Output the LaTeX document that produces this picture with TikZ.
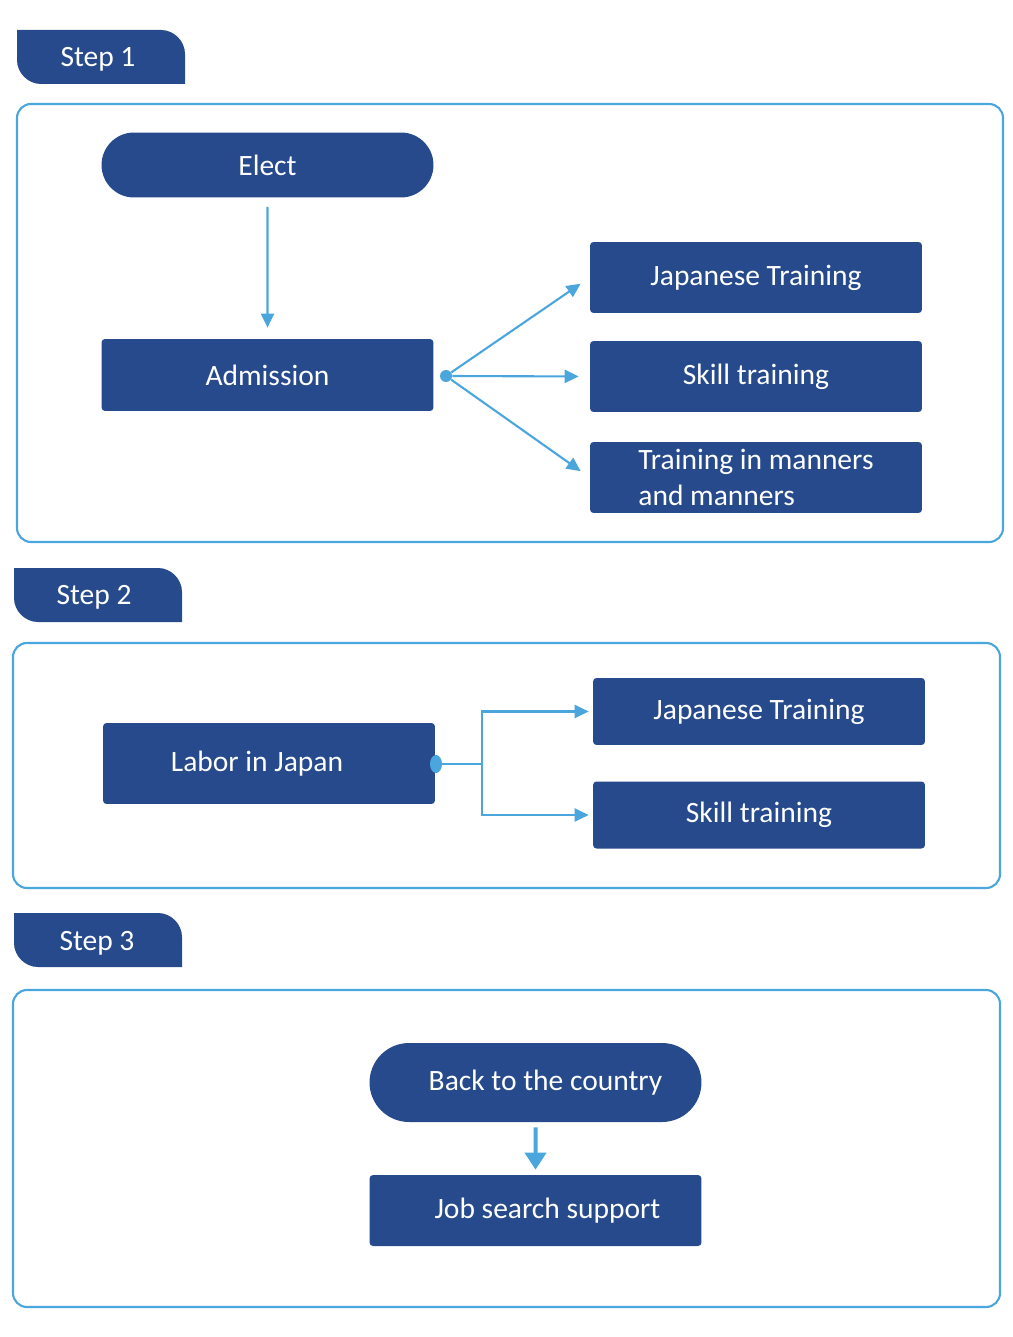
\documentclass[tikz,border=0pt]{standalone}
\usepackage{fontspec}
\setmainfont{Carlito}
\usetikzlibrary{positioning,shapes.misc,shapes.geometric,arrows.meta}
\definecolor{stepblue}{RGB}{38,74,140}
\definecolor{linkblue}{RGB}{75,166,222}

\begin{document}
\begin{tikzpicture}[x=0.02cm,y=-0.02cm]
	% Define node styles
	\tikzstyle{box} = [rectangle, fill=stepblue, text=white, rounded corners=2pt, minimum width=6.64cm, minimum height=1.42cm, inner sep=0pt, font=\fontsize{16.8}{20.4}\selectfont];
	\tikzstyle{pill} = [rounded rectangle, fill=stepblue, text=white, minimum width=6.64cm, inner sep=0pt, font=\fontsize{16.8}{20.4}\selectfont];
	\tikzstyle{panel} = [draw=linkblue, line width=1.2pt, rounded corners=0.28cm];
	\tikzstyle{tabshape} = [fill=stepblue];
	\tikzstyle{tablabel} = [text=white, inner sep=0pt, font=\fontsize{16.8}{20.4}\selectfont];
	\tikzstyle{flow} = [draw=linkblue, line width=1.2pt, -{Triangle[length=0.28cm, width=0.26cm]}];
	\tikzstyle{hub} = [circle, fill=linkblue, inner sep=0pt, minimum size=0.24cm];
	
	\useasboundingbox (0,0) rectangle (1012,1337);
	
	% Step tabs
	\fill[tabshape] (17,30) -- (161,30) .. controls (174,30) and (185,41) .. (185,54) -- (185,84) -- (41,84) .. controls (28,84) and (17,73) .. (17,60) -- cycle;
	\node[tablabel] (stepone) at (98,59) {Step 1};
	\fill[tabshape] (14,568) -- (158,568) .. controls (171,568) and (182,579) .. (182,592) -- (182,622) -- (38,622) .. controls (25,622) and (14,611) .. (14,598) -- cycle;
	\node[tablabel] (steptwo) at (94,597) {Step 2};
	\fill[tabshape] (14,913) -- (158,913) .. controls (171,913) and (182,924) .. (182,937) -- (182,967) -- (38,967) .. controls (25,967) and (14,956) .. (14,943) -- cycle;
	\node[tablabel] (stepthree) at (97,943) {Step 3};
	
	% Panels
	\draw[panel] (17,104) rectangle (1003,542);
	\draw[panel] (13,643) rectangle (1000,888);
	\draw[panel] (13,990) rectangle (1000,1307);
	
	% Step 1
	\node[pill, minimum height=1.3cm] (elect) at (267.5,165) {Elect};
	\node[box, minimum height=1.44cm] (admission) at (267.5,375) {Admission};
	\node[box] (jtone) at (756,277.5) {Japanese Training};
	\node[box] (skillone) at (756,376.5) {Skill training};
	\node[box, align=left] (manners) at (756,477.5) {Training in manners\\and manners\hspace*{0.1cm}};
	\node[hub] (hubone) at (446,376) {};
	
	\draw[flow, shorten <=0.18cm, shorten >=0.22cm] (elect) -- (admission);
	\draw[flow, shorten >=0.22cm] (hubone) -- (jtone.west);
	\draw[flow, shorten >=0.22cm] (hubone) -- (skillone.west);
	\draw[flow, shorten >=0.22cm] (hubone) -- (manners.west);
	
	% Step 2
	\node[box, minimum height=1.62cm] (labor) at (269,763.5) {Labor in Japan\hspace*{0.48cm}};
	\node[box, minimum height=1.34cm] (jttwo) at (759,711.5) {Japanese Training};
	\node[box, minimum height=1.34cm] (skilltwo) at (759,815) {Skill training};
	\node[hub, ellipse, minimum width=0.24cm, minimum height=0.36cm] (hubtwo) at (436,764) {};
	
	\draw[flow, shorten >=0.08cm] (hubtwo) -- ++(46,0) |- (jttwo.west);
	\draw[flow, shorten >=0.08cm] (hubtwo) -- ++(46,0) |- (skilltwo.west);
	
	% Step 3
	\node[pill, minimum height=1.58cm] (back) at (535.5,1082.5) {\hspace*{0.4cm}Back to the country};
	\node[box] (jobsupport) at (535.5,1210.5) {\hspace*{0.48cm}Job search support};
	
	\draw[flow, line width=2.3pt, -{Triangle[length=0.34cm, width=0.42cm]}, shorten <=0.1cm, shorten >=0.1cm] (back) -- (jobsupport);
\end{tikzpicture}
\end{document}
